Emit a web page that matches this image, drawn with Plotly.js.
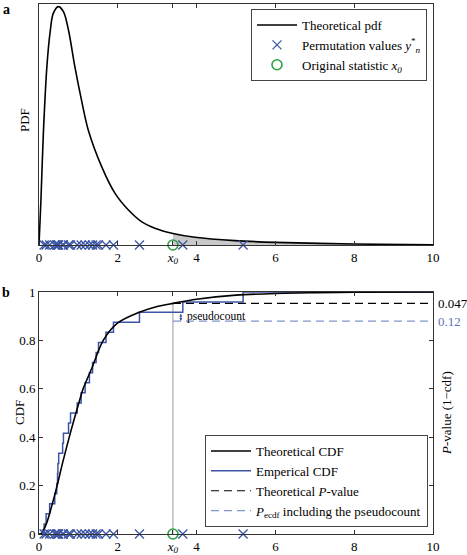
<!DOCTYPE html>
<html><head><meta charset="utf-8">
<script src="https://cdn.plot.ly/plotly-3.0.1.min.js"></script>
<style>html,body{margin:0;padding:0;background:#fff}#chart{width:467px;height:555px}</style>
</head><body><div id="chart"></div>
<script>
// ---- data ----
const pdfX = [0, 0.05, 0.11, 0.2, 0.28, 0.36, 0.49, 0.62, 0.75, 0.91, 1.08, 1.25, 1.59, 1.93, 2.27, 2.6, 2.94, 3.4, 3.96, 4.97, 6.0, 8.0, 10.0];
const pdfY = [0, 0.19, 0.46, 0.74, 0.88, 0.96, 0.989, 0.968, 0.89, 0.74, 0.60, 0.477, 0.325, 0.214, 0.145, 0.097, 0.07, 0.048, 0.032, 0.018, 0.011, 0.004, 0.001];
const cdfX = [0, 0.05, 0.1, 0.2, 0.3, 0.46, 0.6, 0.8, 1.0, 1.12, 1.34, 1.63, 2.0, 2.56, 3.0, 3.4, 4.0, 5.0, 6.0, 7.0, 8.0, 10.0];
const cdfY = [0, 0.001, 0.012, 0.048, 0.102, 0.2, 0.295, 0.42, 0.535, 0.6, 0.685, 0.8, 0.872, 0.917, 0.94, 0.953, 0.97, 0.987, 0.994, 0.997, 0.999, 1.0];
const permValues = [0.13, 0.18, 0.27, 0.40, 0.45, 0.47, 0.48, 0.50, 0.60, 0.62, 0.75, 0.80, 0.97, 1.07, 1.17, 1.28, 1.36, 1.45, 1.51, 1.70, 1.89, 2.55, 3.65, 5.18];
const x0 = 3.4;
const pTheoretical = 0.047;
const pEcdf = 0.12;
const xTickVals = [0, 2, x0, 4, 6, 8, 10];
const xTickText = ['0', '2', '<i>x</i><sub><i>0</i></sub>', '4', '6', '8', '10'];
const xMax = 10;

// ---- styling ----
const FONT = '"Liberation Serif", "Times New Roman", Times, serif';
const BLUE = '#3c55a5';
const LBLUE = '#7f95cc';
const GREEN = '#2fa044';
const AX = '#333333';

// derived series
const shadeX = [], shadeY = [];
pdfX.forEach((v, i) => { if (v >= x0) { shadeX.push(v); shadeY.push(pdfY[i]); } });
const zeros = permValues.map(() => 0);
const sorted = permValues.slice().sort((a, b) => a - b);
const ecdfX = [0].concat(sorted, [xMax]);
const ecdfY = [0].concat(sorted.map((v, i) => (i + 1) / sorted.length), [1]);
const levelAtX0 = ecdfY[sorted.filter(v => v <= x0).length];

const traces = [
  {x: shadeX, y: shadeY, xaxis: 'x', yaxis: 'y', mode: 'lines', line: {width: 0, shape: 'spline'},
   fill: 'tozeroy', fillcolor: '#c9c9c9', showlegend: false, hoverinfo: 'skip'},
  {x: pdfX, y: pdfY, xaxis: 'x', yaxis: 'y', mode: 'lines', line: {color: '#000', width: 1.6, shape: 'spline', smoothing: 0.9},
   name: 'Theoretical pdf', legend: 'legend', legendrank: 1},
  {x: permValues, y: zeros, xaxis: 'x', yaxis: 'y', mode: 'markers', cliponaxis: false,
   marker: {symbol: 'x-thin', size: 9, line: {color: BLUE, width: 1.3}, color: BLUE},
   name: 'Permutation values <i>y</i><sup>*</sup><sub><i>n</i></sub>', legend: 'legend', legendrank: 2},
  {x: [x0], y: [0], xaxis: 'x', yaxis: 'y', mode: 'markers', cliponaxis: false,
   marker: {symbol: 'circle-open', size: 10, line: {color: GREEN, width: 1.6}, color: GREEN},
   name: 'Original statistic <i>x</i><sub><i>0</i></sub>', legend: 'legend', legendrank: 3},

  {x: [x0, x0], y: [0, 1 - pTheoretical], xaxis: 'x2', yaxis: 'y2', mode: 'lines',
   line: {color: '#9a9a9a', width: 1}, showlegend: false, hoverinfo: 'skip'},
  {x: [x0, xMax], y: [1 - pEcdf, 1 - pEcdf], xaxis: 'x2', yaxis: 'y2', mode: 'lines',
   line: {color: LBLUE, width: 1.3, dash: '8px,5px'},
   name: '<i>P</i><sub>ecdf</sub> including the pseudocount', legend: 'legend2', legendrank: 4},
  {x: [x0, xMax], y: [1 - pTheoretical, 1 - pTheoretical], xaxis: 'x2', yaxis: 'y2', mode: 'lines',
   line: {color: '#000', width: 1.1, dash: '8px,5px'},
   name: 'Theoretical <i>P</i>-value', legend: 'legend2', legendrank: 3},
  {x: ecdfX, y: ecdfY, xaxis: 'x2', yaxis: 'y2', mode: 'lines', line: {color: BLUE, width: 1.5, shape: 'hv'},
   name: 'Emperical CDF', legend: 'legend2', legendrank: 2},
  {x: cdfX, y: cdfY, xaxis: 'x2', yaxis: 'y2', mode: 'lines', line: {color: '#000', width: 1.6, shape: 'spline', smoothing: 0.8},
   name: 'Theoretical CDF', legend: 'legend2', legendrank: 1},
  {x: permValues, y: zeros, xaxis: 'x2', yaxis: 'y2', mode: 'markers', cliponaxis: false,
   marker: {symbol: 'x-thin', size: 9, line: {color: BLUE, width: 1.3}, color: BLUE}, showlegend: false},
  {x: [x0], y: [0], xaxis: 'x2', yaxis: 'y2', mode: 'markers', cliponaxis: false,
   marker: {symbol: 'circle-open', size: 10, line: {color: GREEN, width: 1.6}, color: GREEN}, showlegend: false}
];

const axCommon = {showline: true, linecolor: AX, linewidth: 1, mirror: 'ticks', ticks: 'inside', ticklen: 4,
  tickcolor: AX, showgrid: false, zeroline: false, tickfont: {family: FONT, size: 13, color: '#000'}};

const W = 467, H = 555, mL = 39, mR = 34, mT = 4, mB = 21;
const ph = H - mT - mB;
const py = v => (H - mB - v) / ph; // pixel y -> paper y
const pw = W - mL - mR;
const px = v => (v - mL) / pw;

const legendCommon = {bgcolor: '#fff', bordercolor: '#444', borderwidth: 1, itemwidth: 40,
  xanchor: 'right', traceorder: 'normal', font: {family: FONT, size: 13, color: '#000'}};

const ann = (text, x, y, extra) => Object.assign({text: text, xref: 'paper', yref: 'paper', x: px(x), y: py(y),
  xanchor: 'center', yanchor: 'middle', showarrow: false, font: {family: FONT, size: 13, color: '#000'}}, extra || {});

const layout = {
  width: W, height: H,
  margin: {l: mL, r: mR, t: mT, b: mB, pad: 0},
  paper_bgcolor: '#fff', plot_bgcolor: '#fff',
  font: {family: FONT, size: 13, color: '#000'},
  showlegend: true,
  xaxis: Object.assign({}, axCommon, {domain: [0, 1], anchor: 'y', range: [0, xMax], tickvals: xTickVals, ticktext: xTickText}),
  yaxis: Object.assign({}, axCommon, {domain: [py(245), 1], anchor: 'x', range: [0, 1], ticks: '', showticklabels: false, mirror: true}),
  xaxis2: Object.assign({}, axCommon, {domain: [0, 1], anchor: 'y2', range: [0, xMax], tickvals: xTickVals, ticktext: xTickText}),
  yaxis2: Object.assign({}, axCommon, {domain: [0, py(292)], anchor: 'x2', range: [0, 1], dtick: 0.2, tick0: 0}),
  legend: Object.assign({}, legendCommon, {x: px(427), y: py(9), yanchor: 'top'}),
  legend2: Object.assign({}, legendCommon, {x: px(428), y: py(527), yanchor: 'bottom'}),
  annotations: [
    ann('<b>a</b>', 6, 9, {font: {family: FONT, size: 14, color: '#000'}}),
    ann('<b>b</b>', 6, 292, {font: {family: FONT, size: 14, color: '#000'}}),
    ann('PDF', 25, 120, {textangle: -90}),
    ann('CDF', 20, 413, {textangle: -90}),
    ann('<i>P</i>-value (1\u2212cdf)', 447, 413, {textangle: -90}),
    {text: String(pTheoretical), xref: 'paper', yref: 'y2', x: 1, xshift: 3, y: 1 - pTheoretical, xanchor: 'left', yanchor: 'middle', showarrow: false, font: {family: FONT, size: 13, color: '#000'}},
    {text: String(pEcdf), xref: 'paper', yref: 'y2', x: 1, xshift: 3, y: 1 - pEcdf, xanchor: 'left', yanchor: 'middle', showarrow: false, font: {family: FONT, size: 13, color: '#5b74b9'}},
    {text: '', xref: 'x2', yref: 'y2', x: 3.6, y: 1 - pEcdf, axref: 'x2', ayref: 'y2', ax: 3.6, ay: levelAtX0,
     showarrow: true, arrowside: 'end+start', arrowhead: 2, arrowsize: 0.6, arrowwidth: 1, arrowcolor: BLUE},
    {text: 'pseudocount', xref: 'x2', yref: 'y2', x: 3.7, y: (levelAtX0 + 1 - pEcdf) / 2, xanchor: 'left', yanchor: 'middle', showarrow: false,
     font: {family: FONT, size: 11.5, color: '#000'}}
  ]
};

Plotly.newPlot('chart', traces, layout, {staticPlot: true, displayModeBar: false});
</script>
</body></html>
